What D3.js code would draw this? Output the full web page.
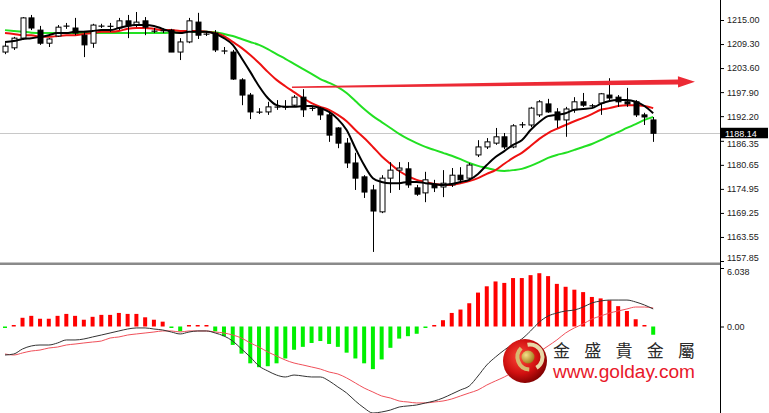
<!DOCTYPE html>
<html><head><meta charset="utf-8">
<script src="https://cdn.jsdelivr.net/npm/d3@7"></script>
<style>html,body{margin:0;padding:0;background:#fff;}svg{display:block;}</style>
</head><body>
<svg id="c" width="769" height="413"></svg>
<script>
// ---------- DATA ----------
const open = [1207.4,1208.4,1210.7,1215.5,1212.6,1209.5,1211.2,1213.6,1213.1,1211.4,
 1209.5,1213.5,1213.6,1213.1,1214.8,1213.8,1214.8,1212.4,1212.4,1212.6,
 1207.4,1209.8,1214.5,1211.7,1211.9,1207.7,1207.4,1200.8,1197.2,1193.2,
 1193.2,1194.4,1194.3,1194.8,1196.7,1194.1,1194.1,1192.5,1189.4,1185.8,
 1181.1,1177.8,1174.7,1169.5,1177.5,1179.4,1179.7,1175.2,1174.0,1175.9,
 1175.4,1175.9,1178.2,1177.5,1183.0,1184.9,1185.8,1187.3,1184.9,1190.1,
 1190.1,1192.5,1195.1,1193.2,1191.3,1193.7,1195.6,1194.6,1195.3,1197.2,
 1196.7,1195.6,1195.6,1192.5,1191.3];
const high = [1209.5,1211.0,1215.7,1216.2,1213.6,1210.7,1213.8,1214.3,1215.5,1212.4,
 1214.1,1214.1,1214.3,1215.5,1216.2,1216.9,1215.7,1213.1,1213.0,1212.9,
 1210.7,1215.5,1216.7,1212.2,1212.6,1208.6,1207.9,1201.2,1197.7,1194.1,
 1195.6,1196.0,1196.0,1197.2,1198.6,1194.6,1194.4,1193.0,1189.6,1187.0,
 1183.5,1178.2,1175.9,1178.2,1181.3,1181.3,1181.3,1175.9,1179.0,1177.1,
 1179.4,1179.9,1180.1,1181.1,1186.5,1187.0,1189.4,1188.2,1190.3,1190.8,
 1194.4,1196.0,1196.3,1194.1,1194.4,1196.7,1197.7,1195.1,1197.7,1201.2,
 1197.2,1198.9,1196.0,1193.0,1192.0];
const low = [1206.9,1207.9,1210.3,1212.6,1209.1,1208.6,1211.0,1212.9,1211.4,1206.2,
 1208.4,1213.1,1212.2,1212.6,1210.7,1213.3,1211.4,1211.9,1211.9,1207.4,
 1205.5,1209.5,1210.5,1211.2,1207.4,1206.9,1200.8,1194.8,1191.5,1192.7,
 1192.5,1193.7,1193.7,1194.4,1192.0,1193.4,1191.3,1186.1,1184.6,1179.9,
 1174.7,1172.8,1160.0,1169.2,1174.0,1174.7,1175.2,1173.3,1171.8,1174.2,
 1173.0,1175.4,1176.3,1177.1,1182.5,1184.4,1185.4,1184.4,1184.6,1189.4,
 1189.6,1192.0,1193.0,1189.4,1187.3,1193.0,1194.4,1194.1,1192.5,1196.0,
 1194.4,1194.4,1192.0,1190.1,1186.1];
const close = [1208.8,1210.7,1215.5,1213.1,1209.5,1210.5,1213.3,1213.5,1211.9,1209.1,
 1213.8,1213.6,1213.4,1214.8,1213.6,1214.5,1213.3,1212.3,1212.5,1207.4,
 1209.8,1214.8,1211.4,1211.6,1207.9,1207.6,1201.0,1197.2,1193.2,1193.1,
 1194.4,1194.3,1194.4,1196.7,1193.7,1194.0,1192.5,1187.7,1185.8,1181.1,
 1177.5,1174.2,1169.7,1177.5,1179.4,1179.9,1175.9,1173.7,1177.1,1175.2,
 1176.3,1178.2,1177.1,1180.6,1184.9,1186.1,1187.3,1184.9,1189.9,1190.2,
 1194.1,1195.6,1193.2,1191.3,1193.9,1195.6,1194.8,1194.7,1197.5,1196.5,
 1195.6,1195.1,1192.5,1192.0,1188.14];

const maFast = [1209.8,1210.0,1210.5,1210.7,1211.0,1211.4,1211.9,1211.9,1212.2,1212.2,
 1212.4,1212.6,1212.6,1213.1,1213.6,1213.8,1213.8,1213.6,1212.9,1212.2,
 1211.9,1212.2,1212.2,1212.2,1211.7,1210.7,1209.1,1206.0,1202.7,1199.3,
 1196.5,1194.8,1194.4,1194.4,1194.6,1194.6,1194.1,1193.2,1191.5,1188.9,
 1184.6,1180.6,1177.5,1176.6,1176.3,1176.3,1176.6,1176.6,1176.3,1176.1,
 1175.9,1176.1,1176.6,1177.1,1178.5,1180.6,1182.5,1183.9,1185.4,1186.5,
 1188.9,1190.8,1192.2,1192.5,1192.9,1193.7,1193.9,1194.1,1195.1,1195.8,
 1196.0,1196.0,1195.6,1194.6,1192.9];
const maMid = [1211.9,1211.7,1211.4,1211.4,1211.0,1211.0,1211.2,1211.4,1211.4,1211.7,
 1211.9,1212.2,1212.2,1212.4,1212.9,1213.1,1213.1,1212.9,1212.6,1212.6,
 1212.4,1212.4,1212.4,1212.2,1211.9,1211.2,1209.8,1208.4,1206.7,1204.8,
 1202.7,1200.8,1199.3,1197.9,1196.5,1195.3,1194.4,1193.7,1192.5,1191.0,
 1188.9,1187.0,1184.9,1182.7,1180.9,1179.2,1178.0,1177.1,1176.6,1176.1,
 1175.9,1175.9,1176.3,1176.8,1177.5,1178.5,1179.4,1180.9,1182.3,1183.5,
 1185.1,1186.8,1188.2,1189.2,1190.1,1191.0,1191.8,1192.7,1193.7,1194.1,
 1194.6,1194.8,1194.8,1194.6,1194.1];
const maSlow = [1212.6,1212.4,1212.2,1212.0,1211.9,1211.9,1211.9,1211.9,1211.9,1211.9,
 1211.9,1211.9,1211.9,1211.9,1211.9,1211.9,1211.9,1211.9,1211.9,1212.0,
 1212.1,1212.2,1212.2,1212.2,1212.1,1211.7,1211.2,1210.5,1209.8,1209.1,
 1208.1,1206.9,1205.8,1204.6,1203.4,1202.2,1201.0,1200.1,1199.1,1197.7,
 1195.8,1193.9,1192.2,1190.8,1189.4,1188.0,1186.8,1185.8,1184.9,1184.2,
 1183.5,1182.8,1182.0,1181.1,1180.4,1179.9,1179.4,1179.2,1179.4,1179.7,
 1180.4,1181.3,1182.3,1183.0,1183.5,1184.2,1184.9,1185.6,1186.5,1187.5,
 1188.4,1189.4,1190.3,1191.3,1192.0];

const macdHist = [-0.15,0.1,0.9,1.1,0.8,0.8,1.1,1.3,1.1,0.7,
 1.0,1.2,1.2,1.4,1.3,1.3,0.95,0.7,0.5,-0.15,
 -0.5,0.1,0.05,0.05,-0.5,-1.0,-1.9,-2.8,-3.8,-4.2,
 -4.1,-3.8,-3.3,-2.4,-2.1,-1.7,-1.5,-1.8,-2.1,-2.7,
 -3.3,-3.8,-4.4,-3.4,-2.2,-1.25,-1.0,-0.75,-0.15,0.15,
 0.65,1.4,1.75,2.4,3.5,4.15,4.65,4.5,5.0,5.0,
 5.3,5.5,5.2,4.4,4.1,3.8,3.55,3.05,2.9,2.7,
 2.1,1.6,0.75,0.1,-0.85];
const macdLine = [-2.94,-2.84,-2.32,-2.01,-1.91,-1.91,-1.70,-1.39,-1.39,-1.29,
 -1.08,-0.88,-0.67,-0.46,-0.26,-0.15,-0.15,-0.26,-0.36,-0.57,
 -0.77,-0.57,-0.46,-0.46,-0.67,-0.98,-1.50,-2.32,-3.15,-4.08,
 -4.59,-5.01,-5.21,-5.01,-5.11,-5.21,-5.21,-5.62,-6.24,-6.86,
 -7.69,-8.41,-8.93,-8.82,-8.62,-8.31,-8.20,-8.10,-7.89,-7.69,
 -7.38,-6.97,-6.55,-6.14,-5.11,-3.97,-3.15,-2.43,-1.81,-1.29,
 -0.46,0.46,1.08,1.39,1.60,1.70,2.01,2.43,2.63,2.73,
 2.73,2.73,2.53,2.22,1.81];
const macdSignal = [-2.84,-2.94,-2.73,-2.53,-2.43,-2.22,-2.12,-1.91,-1.81,-1.70,
 -1.60,-1.50,-1.19,-1.08,-0.88,-0.77,-0.67,-0.57,-0.46,-0.46,
 -0.57,-0.46,-0.46,-0.46,-0.57,-0.67,-0.88,-1.19,-1.70,-2.12,
 -2.63,-3.04,-3.46,-3.77,-3.97,-4.18,-4.39,-4.70,-4.90,-5.31,
 -5.83,-6.35,-6.76,-7.17,-7.38,-7.69,-7.79,-7.89,-7.89,-7.79,
 -7.69,-7.48,-7.17,-6.86,-6.55,-6.04,-5.62,-5.21,-4.70,-4.08,
 -3.35,-2.63,-2.01,-1.39,-0.67,-0.15,0.26,0.77,1.08,1.39,
 1.60,1.81,2.01,2.01,1.91];

const priceTicks = [1215.00,1209.30,1203.60,1197.90,1192.20,1186.35,1180.65,1174.95,1169.25,1163.55,1157.85];
const macdTicks = [6.038, 0.00];
const lastPrice = 1188.14;
// trend arrow annotation: [bar index, price]
const arrowFrom = [32.76, 1199.04];
const arrowTo = [78.77, 1200.37];
const logoName = "金 盛 貴 金 屬";
const logoUrl = "www.golday.com";

// ---------- CHART ----------
const svg = d3.select("#c");
const axisX = 720;
const n = open.length;
const x = d3.scaleLinear().domain([0, n - 1]).range([5, 653.2]);
const y = d3.scaleLinear().domain([1157.85, 1215]).range([261, 20]);
const ym = d3.scaleLinear().domain([0, 6.038]).range([326.5, 268]);
const idx = d3.range(n);

const defs = svg.append("defs");
defs.append("clipPath").attr("id","clipTop").append("rect").attr("x",0).attr("y",0).attr("width",axisX).attr("height",262);
defs.append("clipPath").attr("id","clipBot").append("rect").attr("x",0).attr("y",265).attr("width",axisX).attr("height",148);

// current price line
svg.append("line").attr("x1",0).attr("x2",axisX).attr("y1",Math.round(y(lastPrice))+0.5).attr("y2",Math.round(y(lastPrice))+0.5)
  .attr("stroke","#c8c8c8").attr("stroke-width",1);

const topG = svg.append("g").attr("clip-path","url(#clipTop)");

// MA lines
const lineGen = arr => d3.line().x(i => x(i)).y(i => y(arr[i])).curve(d3.curveMonotoneX)(idx);
topG.append("path").attr("d", lineGen(maSlow)).attr("fill","none").attr("stroke","#22e022").attr("stroke-width",2);
topG.append("path").attr("d", lineGen(maMid)).attr("fill","none").attr("stroke","#ee1111").attr("stroke-width",2);

// candles
const bw = 5;
const cg = topG.append("g");
idx.forEach(i => {
  const cx = Math.round(x(i)) + 0.5;
  cg.append("line").attr("x1",cx).attr("x2",cx).attr("y1",y(high[i])).attr("y2",y(low[i])).attr("stroke","#000").attr("stroke-width",1);
  const up = close[i] >= open[i];
  const yTop = y(Math.max(open[i], close[i])), yBot = y(Math.min(open[i], close[i]));
  const h = yBot - yTop;
  if (h < 1.5) {
    cg.append("line").attr("x1",cx - bw/2 - 0.5).attr("x2",cx + bw/2 + 0.5).attr("y1",(yTop+yBot)/2).attr("y2",(yTop+yBot)/2)
      .attr("stroke","#000").attr("stroke-width",1.2);
  } else {
    cg.append("rect").attr("x",cx - bw/2).attr("y",yTop).attr("width",bw).attr("height",h)
      .attr("fill", up ? "#fff" : "#000").attr("stroke","#000").attr("stroke-width",1);
  }
});
topG.append("path").attr("d", lineGen(maFast)).attr("fill","none").attr("stroke","#000").attr("stroke-width",2);

// arrow annotation
(function(){
  const p0 = [x(arrowFrom[0]), y(arrowFrom[1])];
  const p1 = [x(arrowTo[0]), y(arrowTo[1])];
  const dx = p1[0]-p0[0], dy = p1[1]-p0[1], L = Math.hypot(dx,dy);
  const ux = dx/L, uy = dy/L, nx = -uy, ny = ux;
  const headLen = 17, headW = 5.6, w0 = 0.7, w1 = 2.5;
  const b = [p1[0]-ux*headLen, p1[1]-uy*headLen];
  const pts = [
    [p0[0]+nx*w0, p0[1]+ny*w0],
    [b[0]+nx*w1, b[1]+ny*w1],
    [b[0]+nx*headW, b[1]+ny*headW],
    p1,
    [b[0]-nx*headW, b[1]-ny*headW],
    [b[0]-nx*w1, b[1]-ny*w1],
    [p0[0]-nx*w0, p0[1]-ny*w0]
  ];
  svg.append("polygon").attr("points", pts.map(p=>p.join(",")).join(" ")).attr("fill","#ec2a35");
})();

// separator
svg.append("rect").attr("x",0).attr("y",262.5).attr("width",axisX).attr("height",2.5).attr("fill","#8a8a8a");

// MACD panel
const botG = svg.append("g").attr("clip-path","url(#clipBot)");
idx.forEach(i => {
  const v = macdHist[i];
  const y0 = ym(0);
  let y1 = ym(v);
  let h = Math.abs(y1 - y0);
  if (h < 1.5) h = 1.5;
  const yy = v >= 0 ? y0 - h : y0;
  botG.append("rect").attr("x", x(i) - 2).attr("y", yy).attr("width", 4).attr("height", h)
    .attr("fill", v >= 0 ? "#ff0000" : "#00f000");
});
const mline = arr => d3.line().x(i => x(i)).y(i => ym(arr[i])).curve(d3.curveMonotoneX)(idx);
botG.append("path").attr("d", mline(macdSignal)).attr("fill","none").attr("stroke","#f0505a").attr("stroke-width",1);
botG.append("path").attr("d", mline(macdLine)).attr("fill","none").attr("stroke","#333").attr("stroke-width",1);

// axes
svg.append("line").attr("x1",axisX+0.5).attr("x2",axisX+0.5).attr("y1",0).attr("y2",413).attr("stroke","#000").attr("stroke-width",1);
const ax1 = svg.append("g").attr("transform",`translate(${axisX},0)`)
  .call(d3.axisRight(y).tickValues(priceTicks).tickSize(4).tickPadding(3).tickFormat(d3.format(".2f")));
const ax2 = svg.append("g").attr("transform",`translate(${axisX},0)`)
  .call(d3.axisRight(ym).tickValues(macdTicks).tickSize(4).tickPadding(3).tickFormat(d => d === 0 ? "0.00" : d.toFixed(3)));
[ax1, ax2].forEach(a => {
  a.select(".domain").remove();
  a.selectAll("text").attr("font-family","Liberation Sans, Arial, sans-serif").attr("font-size","9px").attr("fill","#222");
  a.selectAll("line").attr("stroke","#000");
});
// keep neighbouring labels apart, as in the reference
ax1.selectAll(".tick").filter(d => d === 1157.85).select("text").attr("dy","-0.05em");
ax1.selectAll(".tick").filter(d => d === 1186.35).select("text").attr("dy","0.62em");
ax2.selectAll(".tick").filter(d => d === 6.038).select("text").attr("dy","0.75em");

// last price label
svg.append("rect").attr("x",axisX+1).attr("y",y(lastPrice)-5.5).attr("width",47).attr("height",10.5).attr("fill","#000");
svg.append("text").attr("x",axisX+5).attr("y",y(lastPrice)+3.3).text(lastPrice.toFixed(2))
  .attr("font-family","Liberation Sans, Arial, sans-serif").attr("font-size","9px").attr("fill","#fff");

// logo
const rg = defs.append("radialGradient").attr("id","ball").attr("cx","40%").attr("cy","40%").attr("r","65%");
rg.append("stop").attr("offset","0%").attr("stop-color","#ff4a3a");
rg.append("stop").attr("offset","60%").attr("stop-color","#d01010");
rg.append("stop").attr("offset","100%").attr("stop-color","#7a0000");
const gg = defs.append("radialGradient").attr("id","gold").attr("cx","35%").attr("cy","35%").attr("r","70%");
gg.append("stop").attr("offset","0%").attr("stop-color","#f6e08a");
gg.append("stop").attr("offset","100%").attr("stop-color","#a07818");
const lg = svg.append("g");
lg.append("circle").attr("cx",525).attr("cy",361).attr("r",22).attr("fill","url(#ball)");
lg.append("path").attr("d", d3.arc().innerRadius(10.5).outerRadius(14.5).startAngle(-0.2).endAngle(2.6)()).attr("transform","translate(530,357)").attr("fill","#e8d9a8");
lg.append("path").attr("d", d3.arc().innerRadius(10.5).outerRadius(14.5).startAngle(3.2).endAngle(5.5)()).attr("transform","translate(530,357)").attr("fill","#d7b970");
lg.append("circle").attr("cx",528).attr("cy",357).attr("r",6.5).attr("fill","url(#gold)");

svg.append("text").attr("x",553).attr("y",356.5).text(logoName)
  .attr("font-family","Noto Sans CJK TC, Noto Sans CJK SC, sans-serif").attr("font-size","17px").attr("fill","#2a2a2a")
  .attr("textLength",142).attr("lengthAdjust","spacing");
svg.append("text").attr("x",553).attr("y",378).text(logoUrl)
  .attr("font-family","Liberation Sans, Arial, sans-serif").attr("font-size","18px").attr("fill","#e8182a")
  .attr("textLength",142).attr("lengthAdjust","spacingAndGlyphs");
</script>
</body></html>
